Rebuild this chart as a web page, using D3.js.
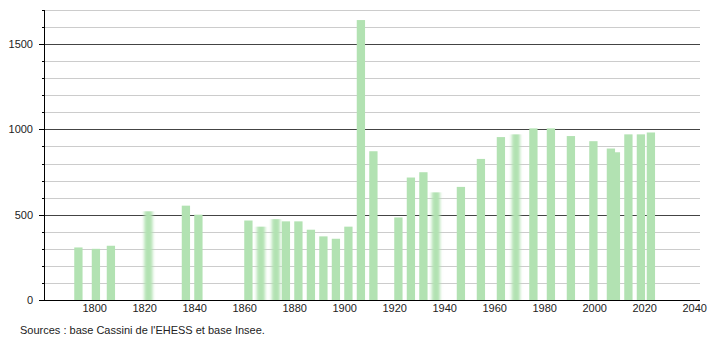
<!DOCTYPE html>
<html>
<head>
    <meta charset="utf-8">
    <title>Population</title>
    <script src="https://d3js.org/d3.v7.min.js"></script>
    <style>
        body { margin: 0; background: #fff; }
        text { font-family: "Liberation Sans", Arial, sans-serif; }
    </style>
</head>
<body>
    <div id="chart"></div>
    <script>

        // census years and population
        var years = [1793, 1800, 1806, 1821, 1836, 1841, 1861, 1866, 1872, 1876, 1881, 1886, 1891, 1896, 1901,
                     1906, 1911, 1921, 1926, 1931, 1936, 1946, 1954, 1962, 1968, 1975, 1982, 1990, 1999,
                     2006, 2008, 2013, 2018, 2022];
        var population = [308, 300, 318, 520, 553, 500, 466, 430, 474, 461, 461, 412, 373, 359, 430,
                          1641, 872, 484, 718, 749, 631, 663, 827, 955, 971, 1006, 1006, 961, 931,
                          888, 866, 971, 971, 982];
        // years drawn with soft (blurred) edges
        var blurredYears = [1821, 1866, 1872, 1936, 1968];
        var xTicks = [1800, 1820, 1840, 1860, 1880, 1900, 1920, 1940, 1960, 1980, 2000, 2020, 2040];
        var yTicks = [0, 500, 1000, 1500];
        var yMinor = d3.range(0, 1701, 100);
        var source = "Sources : base Cassini de l'EHESS et base Insee.";

        var width = 710, height = 340;
        var plotLeft = 44, plotRight = 700, plotTop = 10, plotBottom = 300;

        var svg = d3.select("#chart")
                    .append("svg")
                    .attr("width", width)
                    .attr("height", height);

        var defs = svg.append("defs");
        defs.append("filter")
            .attr("id", "soft")
            .attr("x", "-50%").attr("width", "200%")
            .append("feGaussianBlur")
            .attr("stdDeviation", "1.6 0");

        var x = d3.scaleLinear()
            .domain([1800, 2040])
            .range([94.7, 694.7]);

        var y = d3.scaleLinear()
            .domain([0, 1700])
            .range([plotBottom, plotTop]);

        // grid lines
        svg.append("g")
            .selectAll("line")
            .data(yMinor.filter(function(d) { return d > 0; }))
            .join("line")
            .attr("x1", plotLeft)
            .attr("x2", plotRight)
            .attr("y1", function(d) { return Math.round(y(d)) + 0.5; })
            .attr("y2", function(d) { return Math.round(y(d)) + 0.5; })
            .attr("stroke", function(d) { return d % 500 === 0 ? "#444" : "#cccccc"; })
            .attr("stroke-width", 1);

        // bars
        var data = years.map(function(yr, i) { return {year: yr, value: population[i]}; });
        var barW = 8.3;

        svg.append("g")
            .selectAll("rect")
            .data(data)
            .join("rect")
            .attr("x", function(d) { return x(d.year) - barW / 2 + 1.2; })
            .attr("width", barW)
            .attr("y", function(d) { return y(d.value); })
            .attr("height", function(d) { return y(0) - y(d.value); })
            .attr("fill", "#b2e2b2")
            .attr("filter", function(d) { return blurredYears.indexOf(d.year) >= 0 ? "url(#soft)" : null; });

        // y axis
        var yAxis = svg.append("g");
        yAxis.append("line")
            .attr("x1", plotLeft + 0.5).attr("x2", plotLeft + 0.5)
            .attr("y1", plotTop).attr("y2", plotBottom)
            .attr("stroke", "#000");
        yAxis.selectAll(".tick")
            .data(yMinor)
            .join("line")
            .attr("class", "tick")
            .attr("x1", function(d) { return d % 500 === 0 ? plotLeft - 5 : plotLeft - 2; })
            .attr("x2", plotLeft)
            .attr("y1", function(d) { return Math.round(y(d)) + 0.5; })
            .attr("y2", function(d) { return Math.round(y(d)) + 0.5; })
            .attr("stroke", "#000");
        yAxis.selectAll("text")
            .data(yTicks)
            .join("text")
            .attr("x", 33)
            .attr("y", function(d) { return y(d) + 4; })
            .attr("text-anchor", "end")
            .style("font-size", "11px")
            .attr("fill", "#222")
            .text(function(d) { return d; });

        // x axis
        var xAxis = svg.append("g");
        xAxis.append("line")
            .attr("x1", plotLeft).attr("x2", plotRight)
            .attr("y1", plotBottom + 0.5).attr("y2", plotBottom + 0.5)
            .attr("stroke", "#000");
        xAxis.selectAll("text")
            .data(xTicks)
            .join("text")
            .attr("x", function(d) { return x(d); })
            .attr("y", 312)
            .attr("text-anchor", "middle")
            .style("font-size", "11px")
            .attr("fill", "#222")
            .text(function(d) { return d; });

        svg.append("text")
            .attr("x", 20)
            .attr("y", 334)
            .style("font-size", "11px")
            .attr("fill", "#222")
            .text(source);

    </script>
</body>
</html>
